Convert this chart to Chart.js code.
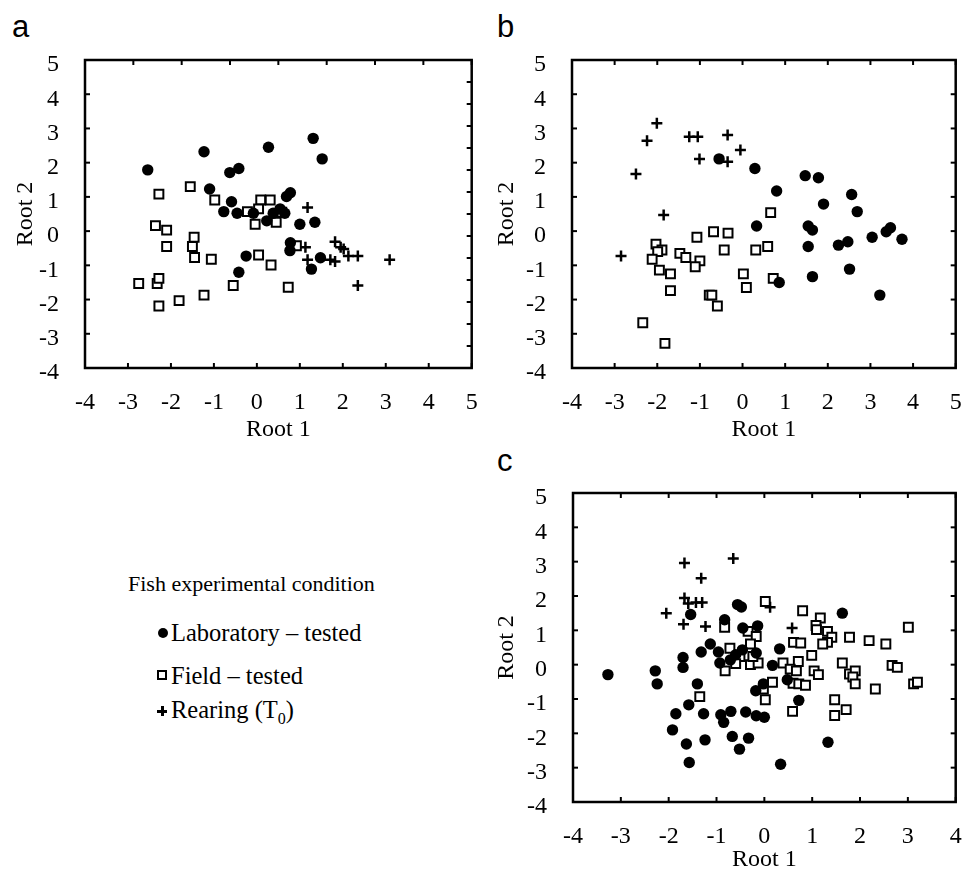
<!DOCTYPE html>
<html lang="en">
<head>
<meta charset="UTF-8">
<title>Fish experimental condition - Root 1 / Root 2</title>
<script src="https://cdn.jsdelivr.net/npm/chart.js"></script>
<style>
  body { margin: 0; background: #fff; }
  #page { position: relative; width: 964px; height: 872px; overflow: hidden; color: #000;
          font-family: 'Liberation Serif', 'Times New Roman', serif; }
  canvas { position: absolute; }
  .letter { position: absolute; font-family: 'Liberation Sans', Arial, sans-serif; font-size: 31px; line-height: 31px; }
  .leg { position: absolute; font-size: 24.5px; line-height: 24.5px; white-space: nowrap; }
  .legtitle { position: absolute; font-size: 22px; line-height: 22px; white-space: nowrap; }
  .dot { position: absolute; width: 10px; height: 10px; border-radius: 50%; background: #000; }
  .sq { position: absolute; width: 6px; height: 6px; border: 2px solid #000; background: #fff; }
  .plus { position: absolute; width: 10px; height: 10px; }
  .plus:before { content: ''; position: absolute; left: 4px; top: 0; width: 2.5px; height: 10px; background: #000; }
  .plus:after { content: ''; position: absolute; left: 0; top: 4px; width: 10px; height: 2.5px; background: #000; }
  sub { font-size: 16px; }
</style>
</head>
<body>
<div id="page">
  <div class="letter" style="left:12px; top:11px">a</div>
  <div class="letter" style="left:497px; top:11px">b</div>
  <div class="letter" style="left:497px; top:445px">c</div>

  <canvas id="chartA" width="480" height="450" style="left:0; top:0"></canvas>
  <canvas id="chartB" width="477" height="450" style="left:487px; top:0"></canvas>
  <canvas id="chartC" width="477" height="432" style="left:487px; top:440px"></canvas>

  <div class="legtitle" style="left:128px; top:573px">Fish experimental condition</div>
  <div class="dot" style="left:158px; top:628px"></div>
  <div class="leg" style="left:171px; top:621px">Laboratory – tested</div>
  <div class="sq" style="left:157px; top:670px"></div>
  <div class="leg" style="left:171px; top:664px">Field – tested</div>
  <div class="plus" style="left:157px; top:706px"></div>
  <div class="leg" style="left:171px; top:698px">Rearing (T<sub>0</sub>)</div>
</div>
<script>
// panel a
var aLab = [[-2.54,1.79],[-1.23,2.32],[0.27,2.45],[1.31,2.71],[1.52,2.11],[-0.63,1.71],[-0.42,1.83],
  [-1.10,1.23],[-0.59,0.86],[-0.77,0.57],[-0.46,0.52],[0.69,1.01],[0.78,1.12],[-0.08,0.52],[0.23,0.30],
  [0.38,0.52],[0.54,0.65],[0.65,0.52],[1.00,0.20],[1.35,0.26],[0.78,-0.34],[0.77,-0.57],[-0.25,-0.73],
  [-0.42,-1.20],[1.48,-0.78],[1.27,-1.11]]
var aField = [[-2.28,1.08],[-1.55,1.30],[-0.98,0.91],[-2.36,0.16],[-2.10,0.03],[-2.10,-0.45],[-1.46,-0.18],
  [-1.50,-0.45],[-1.45,-0.77],[-1.06,-0.82],[-2.75,-1.53],[-2.32,-1.53],[-2.28,-1.38],[-2.28,-2.19],
  [-1.81,-2.03],[-1.23,-1.87],[-0.55,-1.59],[0.73,-1.64],[-0.22,0.57],[0.09,0.91],[0.31,0.91],[0.04,0.65],
  [-0.04,0.20],[0.45,0.26],[0.58,0.55],[0.04,-0.70],[0.33,-0.99],[0.92,-0.43]]
var aRear = [[1.18,0.69],[1.13,-0.47],[1.18,-0.84],[1.82,-0.31],[1.95,-0.47],[2.02,-0.52],[1.71,-0.84],
  [1.82,-0.89],[2.13,-0.73],[2.35,-0.73],[2.35,-1.59],[3.09,-0.84]]

// panel b
var bLab = [[-0.55,2.11],[0.29,1.83],[1.47,1.62],[1.78,1.56],[0.80,1.17],[2.56,1.07],[1.90,0.79],[2.69,0.57],
  [0.33,0.15],[1.54,0.15],[1.64,0.03],[3.04,-0.18],[3.37,-0.02],[3.47,0.10],[3.74,-0.24],[1.54,-0.45],
  [2.25,-0.41],[2.47,-0.31],[2.51,-1.11],[1.64,-1.33],[0.86,-1.50],[3.22,-1.87]]
var bField = [[0.66,0.54],[-0.68,-0.02],[-0.34,-0.06],[-1.07,-0.18],[-2.03,-0.38],[-1.89,-0.55],[-1.99,-0.60],
  [-2.12,-0.82],[-1.47,-0.65],[-1.33,-0.77],[-1.00,-0.87],[-1.11,-1.04],[-0.43,-0.55],[0.31,-0.55],
  [0.59,-0.45],[-1.95,-1.14],[-1.69,-1.25],[-1.69,-1.74],[-0.78,-1.87],[-0.72,-1.87],[-0.59,-2.19],
  [0.02,-1.25],[0.09,-1.65],[0.72,-1.38],[-2.34,-2.68],[-1.82,-3.28]]
var bRear = [[-2.01,3.15],[-2.24,2.64],[-1.25,2.76],[-1.05,2.76],[-0.35,2.81],[-0.05,2.37],[-1.01,2.11],
  [-0.35,2.03],[-2.50,1.67],[-1.85,0.47],[-2.85,-0.73]]

// panel c
var cLab = [[-3.27,-0.29],[-2.28,-0.18],[-2.24,-0.56],[-1.70,0.21],[-1.70,-0.08],[-1.54,1.46],[-1.32,0.37],
  [-1.13,0.60],[-0.96,0.37],[-0.93,0.05],[-0.83,1.31],[-0.56,1.75],[-0.48,1.68],[-0.45,1.07],[-0.14,1.13],
  [-0.71,0.14],[-0.46,0.43],[-0.17,0.34],[-0.60,0.29],[0.17,-0.02],[0.32,0.46],[-0.02,-0.56],[-0.18,-0.76],
  [0.48,-0.44],[0.72,-1.04],[-1.40,-0.56],[-1.58,-1.17],[-1.85,-1.43],[-1.27,-1.43],[-0.91,-1.46],
  [-0.85,-1.68],[-0.70,-1.36],[-0.39,-1.38],[-0.17,-1.49],[0.00,-1.53],[-1.92,-1.90],[-1.63,-2.31],
  [-1.24,-2.19],[-0.67,-2.09],[-0.33,-2.14],[-0.52,-2.46],[-1.57,-2.85],[0.34,-2.90],[1.33,-2.26],[1.63,1.50]]
var cField = [[0.02,1.84],[0.80,1.57],[1.17,1.36],[1.08,1.14],[1.09,1.02],[1.32,0.97],[1.41,0.80],[1.32,0.65],
  [1.22,0.60],[1.78,0.80],[2.19,0.70],[2.54,0.60],[3.01,1.09],[-0.83,1.09],[-0.34,0.97],[-0.17,0.82],
  [-0.29,0.60],[-0.72,0.48],[-0.51,0.24],[-0.60,0.03],[-0.82,-0.18],[-0.29,0.00],[-0.13,0.05],[-0.24,0.24],
  [0.61,0.65],[0.76,0.63],[0.71,0.09],[0.39,0.05],[0.54,-0.13],[0.67,-0.18],[0.99,0.27],[1.04,-0.18],
  [1.13,-0.29],[1.63,0.05],[1.78,-0.27],[1.90,-0.18],[1.85,-0.36],[1.90,-0.56],[2.67,-0.02],[2.78,-0.08],
  [3.12,-0.56],[3.20,-0.51],[2.32,-0.71],[0.17,-0.51],[-0.02,-0.71],[0.02,-1.02],[0.60,-0.54],[0.72,-0.56],
  [0.86,-0.60],[1.47,-1.02],[1.71,-1.31],[1.47,-1.48],[0.59,-1.36],[-1.35,-0.93]]
var cRear = [[-1.67,2.96],[-0.65,3.09],[-1.32,2.52],[-1.67,1.94],[-1.59,1.78],[-1.43,1.81],[-1.30,1.81],
  [-2.05,1.50],[-1.69,1.18],[-1.23,1.11],[0.12,1.67],[0.58,1.07]]

// tick values
var xTicksAB = [-4, -3, -2, -1, 0, 1, 2, 3, 4, 5]
var xTicksC = [-4, -3, -2, -1, 0, 1, 2, 3, 4]
var yTicks = [-4, -3, -2, -1, 0, 1, 2, 3, 4, 5]
// panel a has other divisions on its top and right frame
var topTicksA = [0, 1, 2, 3, 4, 5, 6, 7, 8]
var rightTicksA = [0, 1, 2, 3, 4, 5, 6, 7, 8, 9, 10, 11, 12, 13, 14]

var serif = "'Liberation Serif', 'Times New Roman', serif"
Chart.defaults.color = '#000'

function pts(arr) {
    return arr.map(function (p) { return {x: p[0], y: p[1]} })
}

function series(lab, field, rear) {
    return [
        {label: 'Laboratory – tested', data: pts(lab), pointStyle: 'circle', pointRadius: 5.7,
         backgroundColor: '#000', borderColor: '#000', borderWidth: 0},
        {label: 'Field – tested', data: pts(field), pointStyle: 'rect', pointRadius: 6.3,
         backgroundColor: '#fff', borderColor: '#000', borderWidth: 2},
        {label: 'Rearing (T0)', data: pts(rear), pointStyle: 'cross', pointRadius: 5.5,
         backgroundColor: '#000', borderColor: '#000', borderWidth: 2.5}
    ]
}

// inward tick marks on all four sides plus the frame
var frame = {
    id: 'frame',
    beforeDatasetsDraw: function (chart) {
        var ctx = chart.ctx
        var a = chart.chartArea
        var len = 5
        ctx.save()
        ctx.strokeStyle = '#000'
        ctx.lineWidth = 2
        ;['x', 'y', 'x2', 'y2'].forEach(function (id) {
            var s = chart.scales[id]
            s.ticks.forEach(function (t) {
                var p = s.getPixelForValue(t.value)
                ctx.beginPath()
                if (id == 'x') { ctx.moveTo(p, a.bottom); ctx.lineTo(p, a.bottom - len) }
                if (id == 'x2') { ctx.moveTo(p, a.top); ctx.lineTo(p, a.top + len) }
                if (id == 'y') { ctx.moveTo(a.left, p); ctx.lineTo(a.left + len, p) }
                if (id == 'y2') { ctx.moveTo(a.right, p); ctx.lineTo(a.right - len, p) }
                ctx.stroke()
            })
        })
        ctx.lineWidth = 2.5
        ctx.strokeRect(a.left, a.top, a.right - a.left, a.bottom - a.top)
        ctx.restore()
    }
}

function setTicks(list) {
    return function (s) { s.ticks = list.map(function (v) { return {value: v} }) }
}

function noPad(s) {
    s.paddingLeft = 0; s.paddingRight = 0; s.paddingTop = 0; s.paddingBottom = 0
}

function makeChart(id, data, xt, tt, rt, o) {
    return new Chart(document.getElementById(id), {
        type: 'scatter',
        data: {datasets: data},
        plugins: [frame],
        options: {
            responsive: false,
            animation: false,
            events: [],
            layout: {padding: {top: o.top, right: o.right, left: 0, bottom: 0}},
            plugins: {legend: {display: false}, tooltip: {enabled: false}},
            scales: {
                x: {
                    type: 'linear', position: 'bottom', min: xt[0], max: xt[xt.length - 1],
                    afterBuildTicks: setTicks(xt),
                    afterFit: function (s) { s.height = o.xh; noPad(s) },
                    grid: {display: false}, border: {display: false},
                    ticks: {padding: 12, font: {family: serif, size: 24}},
                    title: {display: true, text: 'Root 1', font: {family: serif, size: 24, lineHeight: 1},
                            padding: {top: 0, bottom: o.xtp}}
                },
                y: {
                    type: 'linear', position: 'left', min: yTicks[0], max: yTicks[yTicks.length - 1],
                    afterBuildTicks: setTicks(yTicks),
                    afterFit: function (s) { s.width = o.yw; noPad(s) },
                    grid: {display: false}, border: {display: false},
                    ticks: {padding: 18, labelOffset: 5, font: {family: serif, size: 24}},
                    title: {display: true, text: 'Root 2', font: {family: serif, size: 24, lineHeight: 1},
                            padding: {top: o.ytp, bottom: 0}}
                },
                x2: {
                    type: 'linear', position: 'top', min: tt[0], max: tt[tt.length - 1],
                    afterBuildTicks: setTicks(tt),
                    afterFit: function (s) { s.height = 0; noPad(s) },
                    grid: {display: false}, border: {display: false}, ticks: {display: false}
                },
                y2: {
                    type: 'linear', position: 'right', min: rt[0], max: rt[rt.length - 1],
                    afterBuildTicks: setTicks(rt),
                    afterFit: function (s) { s.width = 0; noPad(s) },
                    grid: {display: false}, border: {display: false}, ticks: {display: false}
                }
            }
        }
    })
}

var chartA = makeChart('chartA', series(aLab, aField, aRear), xTicksAB, topTicksA, rightTicksA,
    {top: 60, right: 5, xh: 82, yw: 85, xtp: 8, ytp: 14})
var chartB = makeChart('chartB', series(bLab, bField, bRear), xTicksAB, xTicksAB, yTicks,
    {top: 60, right: 7, xh: 82, yw: 85, xtp: 8, ytp: 8})
var chartC = makeChart('chartC', series(cLab, cField, cRear), xTicksC, xTicksC, yTicks,
    {top: 53, right: 2, xh: 70, yw: 86, xtp: 0, ytp: 8})
</script>
</body>
</html>
